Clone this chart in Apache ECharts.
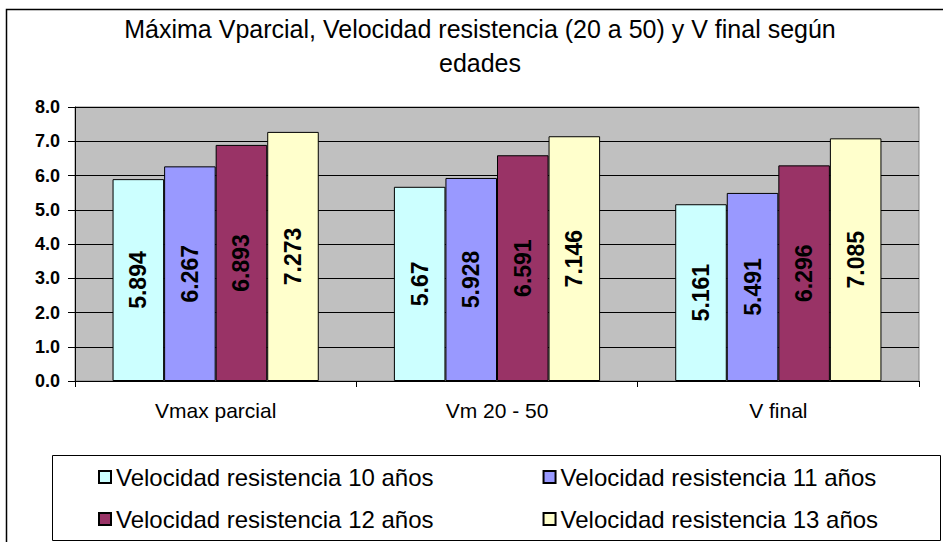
<!DOCTYPE html>
<html>
<head>
<meta charset="utf-8">
<script src="https://cdn.jsdelivr.net/npm/echarts@6/dist/echarts.min.js"></script>
<style>
html,body{margin:0;padding:0;background:#fff;}
#chart{width:943px;height:542px;}
</style>
</head>
<body>
<div id="chart"></div>
<script>
var titleText = 'Máxima Vparcial, Velocidad resistencia (20 a 50) y V final según\nedades';
var categories = ['Vmax parcial', 'Vm 20 - 50', 'V final'];
var seriesNames = ['Velocidad resistencia 10 años', 'Velocidad resistencia 11 años', 'Velocidad resistencia 12 años', 'Velocidad resistencia 13 años'];
var v10 = [5.894, 5.67, 5.161];
var v11 = [6.267, 5.928, 5.491];
var v12 = [6.893, 6.591, 6.296];
var v13 = [7.273, 7.146, 7.085];
var colors = ['#CCFFFF', '#9999FF', '#993366', '#FFFFCC'];
var yMin = 0, yMax = 8, yStep = 1;

var allValues = [v10, v11, v12, v13];
var FONT = '"Liberation Sans", Arial, sans-serif';

var chart = echarts.init(document.getElementById('chart'), null, {renderer: 'svg'});

var series = seriesNames.map(function (name, i) {
  return {
    name: name,
    type: 'bar',
    data: allValues[i],
    barGap: '0%',
    barCategoryGap: '26.7%',
    itemStyle: {color: colors[i], borderColor: '#000', borderWidth: 1},
    label: {
      show: true,
      position: 'inside',
      rotate: 90,
      color: '#000',
      fontFamily: FONT,
      fontWeight: 'bold',
      fontSize: 23,
      formatter: function (p) { return String(p.value); }
    },
    emphasis: {disabled: true}
  };
});

var legendCommon = {
  orient: 'horizontal',
  left: 98,
  padding: 0,
  itemWidth: 12,
  itemHeight: 12,
  itemGap: 109,
  icon: 'rect',
  textStyle: {fontFamily: FONT, fontSize: 24, color: '#000'},
  selectedMode: false
};

chart.setOption({
  animation: false,
  backgroundColor: '#fff',
  title: {
    text: titleText,
    left: 480,
    textAlign: 'center',
    top: 12,
    padding: 0,
    textStyle: {fontFamily: FONT, fontWeight: 'normal', fontSize: 25, lineHeight: 34, color: '#000'}
  },
  legend: [
    Object.assign({}, legendCommon, {top: 465, data: [seriesNames[0], seriesNames[1]]}),
    Object.assign({}, legendCommon, {top: 507, data: [seriesNames[2], seriesNames[3]]})
  ],
  grid: {
    left: 75, top: 107, right: 24, bottom: 161,
    show: true, backgroundColor: '#C0C0C0', borderColor: '#808080', borderWidth: 1
  },
  xAxis: {
    type: 'category',
    data: categories,
    axisLine: {show: true, lineStyle: {color: '#000', width: 1}},
    axisTick: {show: true, length: 6, alignWithLabel: false, lineStyle: {color: '#000'}},
    axisLabel: {fontFamily: FONT, fontSize: 21, color: '#000', margin: 19}
  },
  yAxis: {
    type: 'value',
    min: yMin, max: yMax, interval: yStep,
    axisLine: {show: true, lineStyle: {color: '#000', width: 1}},
    axisTick: {show: true, length: 7, lineStyle: {color: '#000'}},
    axisLabel: {
      fontFamily: FONT, fontSize: 18, fontWeight: 'bold', color: '#000', margin: 15,
      formatter: function (v) { return v.toFixed(1); }
    },
    splitLine: {show: true, lineStyle: {color: '#000', width: 1}}
  },
  graphic: [
    {type: 'rect', shape: {x: 6.5, y: 9.5, width: 1000, height: 1000}, style: {fill: 'none', stroke: '#000', lineWidth: 1.5}, silent: true, z: -1},
    {type: 'rect', shape: {x: 52.5, y: 455.5, width: 888, height: 85}, style: {fill: 'none', stroke: '#000', lineWidth: 1}, silent: true}
  ],
  series: series
});
</script>
</body>
</html>
